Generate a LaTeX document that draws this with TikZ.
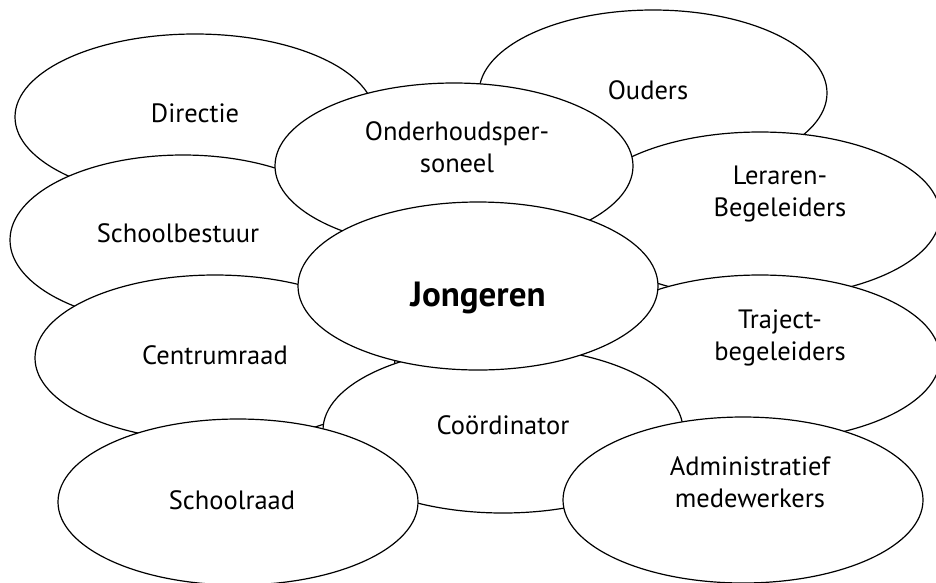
\documentclass[tikz,border=0pt]{standalone}
\usepackage{fontspec}
\setmainfont{PT Sans}
\usetikzlibrary{shapes.geometric, positioning}

\begin{document}
\begin{tikzpicture}[
    x=1pt, y=-1pt,
    bubble/.style={ellipse, draw=black, line width=1.2pt, fill=white, inner sep=0pt,
                   minimum width=360pt, minimum height=166pt},
    bubtext/.style={align=center, font=\fontsize{26.5}{32}\selectfont},
    hubtext/.style={align=center, font=\fontsize{35}{40}\selectfont\bfseries}
]
\useasboundingbox (0,0) rectangle (936,582);

% ============ back row ============
\node[bubble] (directie) at (195,117) {};
\node[bubtext] (directietxt) at ([yshift=4pt]directie.center) {Directie};

\node[bubble, minimum width=348pt] (ouders) at (653,93) {};
\node[bubtext] (ouderstxt) at ([xshift=-5pt, yshift=3pt]ouders.center) {Ouders};

\node[bubble, minimum width=346pt, minimum height=170pt] (bestuur) at (183,240) {};
\node[bubtext] (bestuurtxt) at ([xshift=-5pt, yshift=7pt]bestuur.center) {Schoolbestuur};

\node[bubble] (leraren) at (760,215) {};
\node[bubtext] (lerarentxt) at ([xshift=20pt, yshift=21pt]leraren.center) {Leraren-\\Begeleiders};

\node[bubble] (centrum) at (215,358) {};
\node[bubtext] (centrumtxt) at ([yshift=3pt]centrum.center) {Centrumraad};

% ============ middle row ============
\node[bubble, minimum width=358pt] (onderhoud) at (454,166) {};
\node[bubtext] (onderhoudtxt) at ([xshift=3pt, yshift=19pt]onderhoud.center) {Onderhoudsper-\\soneel};

\node[bubble] (traject) at (760,358) {};
\node[bubtext] (trajecttxt) at ([xshift=20pt, yshift=20pt]traject.center) {Traject-\\begeleiders};

\node[bubble] (coord) at (503,430) {};
\node[bubtext] (coordtxt) at ([yshift=5pt]coord.center) {Coördinator};

% ============ front ============
\node[bubble, minimum height=168pt] (jongeren) at (478,286) {};
\node[hubtext] (jongerentxt) at ([yshift=-12pt]jongeren.center) {Jongeren};

\node[bubble] (schoolraad) at (238,502) {};
\node[bubtext] (schoolraadtxt) at ([xshift=-6pt, yshift=2pt]schoolraad.center) {Schoolraad};

\node[bubble] (admin) at (743,500) {};
\node[bubtext] (admintxt) at ([xshift=7pt, yshift=18pt]admin.center) {Administratief\\medewerkers};

\end{tikzpicture}
\end{document}
